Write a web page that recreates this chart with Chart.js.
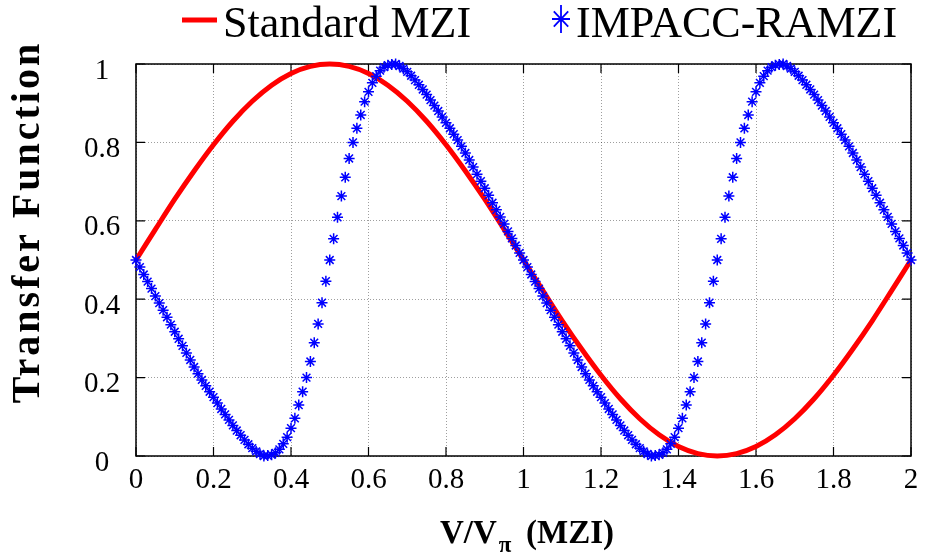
<!DOCTYPE html>
<html>
<head>
<meta charset="utf-8">
<script src="https://cdn.jsdelivr.net/npm/chart.js@4.4.1/dist/chart.umd.min.js"></script>
<style>
  html, body { margin: 0; padding: 0; background: #fff; }
  #wrap { width: 925px; height: 555px; }
</style>
</head>
<body>
<div id="wrap"><canvas id="chart"></canvas></div>
<script>
// ─── Data ───────────────────────────────────────────
const seriesNames = ['Standard MZI', 'IMPACC-RAMZI'];
const xTickLabels = ['0', '0.2', '0.4', '0.6', '0.8', '1', '1.2', '1.4', '1.6', '1.8', '2'];
const yTickLabels = ['0', '0.2', '0.4', '0.6', '0.8', '1'];

// V/Vpi sampling of each trace (start, step)
const mziStart = 0, mziStep = 0.05;
const ramziStart = 0, ramziStep = 0.01;

// Standard MZI, read every 0.05 V/Vpi
const mziValues = [
  0.500, 0.578, 0.655, 0.727, 0.794, 0.854, 0.905, 0.946, 0.976, 0.994,
  1.000, 0.994, 0.976, 0.946, 0.905, 0.854, 0.794, 0.727, 0.655, 0.578,
  0.500, 0.422, 0.345, 0.273, 0.206, 0.146, 0.095, 0.054, 0.024, 0.006,
  0.000, 0.006, 0.024, 0.054, 0.095, 0.146, 0.206, 0.273, 0.345, 0.422,
  0.500
];

// IMPACC-RAMZI, read every 0.01 V/Vpi
const ramziValues = [
  0.500, 0.482, 0.463, 0.445, 0.427, 0.408, 0.390, 0.372, 0.354, 0.335,
  0.317, 0.299, 0.281, 0.263, 0.245, 0.227, 0.210, 0.194, 0.179, 0.164,
  0.150, 0.135, 0.120, 0.106, 0.092, 0.078, 0.065, 0.053, 0.041, 0.030,
  0.020, 0.012, 0.005, 0.000, 0.001, 0.003, 0.008, 0.017, 0.031, 0.048,
  0.071, 0.096, 0.130, 0.164, 0.200, 0.241, 0.289, 0.337, 0.391, 0.446,
  0.500, 0.554, 0.609, 0.663, 0.711, 0.759, 0.800, 0.836, 0.870, 0.904,
  0.929, 0.952, 0.969, 0.983, 0.992, 0.997, 0.999, 1.000, 0.995, 0.988,
  0.980, 0.970, 0.959, 0.947, 0.935, 0.922, 0.908, 0.894, 0.880, 0.865,
  0.850, 0.836, 0.821, 0.806, 0.790, 0.773, 0.755, 0.737, 0.719, 0.701,
  0.683, 0.665, 0.646, 0.628, 0.610, 0.592, 0.573, 0.555, 0.537, 0.518,
  0.500, 0.482, 0.463, 0.445, 0.427, 0.408, 0.390, 0.372, 0.354, 0.335,
  0.317, 0.299, 0.281, 0.263, 0.245, 0.227, 0.210, 0.194, 0.179, 0.164,
  0.150, 0.135, 0.120, 0.106, 0.092, 0.078, 0.065, 0.053, 0.041, 0.030,
  0.020, 0.012, 0.005, 0.000, 0.001, 0.003, 0.008, 0.017, 0.031, 0.048,
  0.071, 0.096, 0.130, 0.164, 0.200, 0.241, 0.289, 0.337, 0.391, 0.446,
  0.500, 0.554, 0.609, 0.663, 0.711, 0.759, 0.800, 0.836, 0.870, 0.904,
  0.929, 0.952, 0.969, 0.983, 0.992, 0.997, 0.999, 1.000, 0.995, 0.988,
  0.980, 0.970, 0.959, 0.947, 0.935, 0.922, 0.908, 0.894, 0.880, 0.865,
  0.850, 0.836, 0.821, 0.806, 0.790, 0.773, 0.755, 0.737, 0.719, 0.701,
  0.683, 0.665, 0.646, 0.628, 0.610, 0.592, 0.573, 0.555, 0.537, 0.518,
  0.500
];

// ─── Helpers ────────────────────────────────────────
const SERIF = '"Liberation Serif", "Times New Roman", serif';
const RED = '#ff0000';
const BLUE = '#0000ff';

function toPoints(values, start, step) {
  return values.map((v, i) => ({ x: +(start + i * step).toFixed(4), y: v }));
}

function drawStar(ctx, cx, cy, rx, ry) {
  ctx.beginPath();
  ctx.moveTo(cx, cy - ry); ctx.lineTo(cx, cy + ry);
  ctx.moveTo(cx - rx, cy); ctx.lineTo(cx + rx, cy);
  ctx.moveTo(cx - rx * 0.8, cy - ry * 0.55); ctx.lineTo(cx + rx * 0.8, cy + ry * 0.55);
  ctx.moveTo(cx - rx * 0.8, cy + ry * 0.55); ctx.lineTo(cx + rx * 0.8, cy - ry * 0.55);
  ctx.stroke();
}

// ─── Frame, ticks and text (MATLAB-like figure) ─────
const paperFigure = {
  id: 'paperFigure',
  beforeDatasetsDraw(chart) {
    const { ctx, chartArea: a, scales: { x, y } } = chart;
    ctx.save();
    ctx.strokeStyle = '#000';
    ctx.lineWidth = 1.5;
    ctx.strokeRect(a.left, a.top, a.right - a.left, a.bottom - a.top);
    ctx.lineWidth = 1.2;
    ctx.beginPath();
    x.ticks.forEach(t => {
      const px = x.getPixelForValue(t.value);
      ctx.moveTo(px, a.bottom); ctx.lineTo(px, a.bottom - 9);
      ctx.moveTo(px, a.top); ctx.lineTo(px, a.top + 9);
    });
    y.ticks.forEach(t => {
      const py = y.getPixelForValue(t.value);
      ctx.moveTo(a.left, py); ctx.lineTo(a.left + 9, py);
      ctx.moveTo(a.right, py); ctx.lineTo(a.right - 9, py);
    });
    ctx.stroke();
    ctx.restore();
  },
  afterDraw(chart) {
    const { ctx, scales: { x, y } } = chart;
    ctx.save();
    ctx.fillStyle = '#000';

    // tick labels
    ctx.font = '29px ' + SERIF;
    ctx.textAlign = 'center';
    ctx.textBaseline = 'alphabetic';
    x.ticks.forEach((t, i) => ctx.fillText(xTickLabels[i], x.getPixelForValue(t.value), 488));
    y.ticks.forEach((t, i) => ctx.fillText(yTickLabels[i], 102, y.getPixelForValue(t.value) + 14.5));

    // x title: V/V_pi (MZI)
    ctx.textAlign = 'left';
    ctx.font = 'bold 33px ' + SERIF;
    ctx.fillText('V/V', 440, 543);
    const w1 = ctx.measureText('V/V').width;
    ctx.font = 'bold 23px ' + SERIF;
    ctx.fillText('\u03c0', 440 + w1 + 2, 552);
    ctx.font = 'bold 33px ' + SERIF;
    ctx.fillText('(MZI)', 526, 543);

    // y title
    ctx.save();
    ctx.translate(29, 222);
    ctx.rotate(-Math.PI / 2);
    ctx.font = 'bold 40px ' + SERIF;
    if ('letterSpacing' in ctx) ctx.letterSpacing = '3px';
    ctx.textAlign = 'center';
    ctx.textBaseline = 'middle';
    ctx.fillText('Transfer Function', 0, 0);
    ctx.restore();

    // legend
    ctx.font = '44px ' + SERIF;
    ctx.textAlign = 'left';
    ctx.textBaseline = 'alphabetic';
    ctx.strokeStyle = RED;
    ctx.lineWidth = 5;
    ctx.beginPath(); ctx.moveTo(182, 20); ctx.lineTo(217, 20); ctx.stroke();
    ctx.fillText(seriesNames[0], 223, 37);
    ctx.strokeStyle = BLUE;
    ctx.lineWidth = 1.8;
    drawStar(ctx, 561, 19, 9, 14);
    ctx.fillText(seriesNames[1], 576, 37);

    ctx.restore();
  }
};

// ─── Chart ──────────────────────────────────────────
const axisCommon = {
  type: 'linear',
  ticks: { display: false, stepSize: 0.2 },
  grid: { color: 'rgba(0,0,0,0.38)', lineWidth: 1, drawTicks: false },
  border: { display: false, dash: [1, 2] },
  title: { display: false }
};

new Chart(document.getElementById('chart'), {
  type: 'line',
  data: {
    datasets: [
      {
        label: seriesNames[1],
        data: toPoints(ramziValues, ramziStart, ramziStep),
        showLine: false,
        pointStyle: 'star',
        pointRadius: 5.5,
        pointBorderWidth: 1.5,
        pointBorderColor: BLUE,
        pointBackgroundColor: BLUE,
        borderColor: BLUE,
        clip: false,
        order: 0
      },
      {
        label: seriesNames[0],
        data: toPoints(mziValues, mziStart, mziStep),
        borderColor: RED,
        borderWidth: 5,
        pointRadius: 0,
        tension: 0.3,
        fill: false,
        clip: false,
        order: 1
      }
    ]
  },
  options: {
    responsive: true,
    maintainAspectRatio: false,
    animation: false,
    devicePixelRatio: 1,
    layout: { padding: { left: 136, right: 14, top: 64, bottom: 99 } },
    plugins: { legend: { display: false }, tooltip: { enabled: false } },
    scales: {
      x: { ...axisCommon, min: 0, max: 2 },
      y: { ...axisCommon, min: 0, max: 1 }
    }
  },
  plugins: [paperFigure]
});
</script>
</body>
</html>
